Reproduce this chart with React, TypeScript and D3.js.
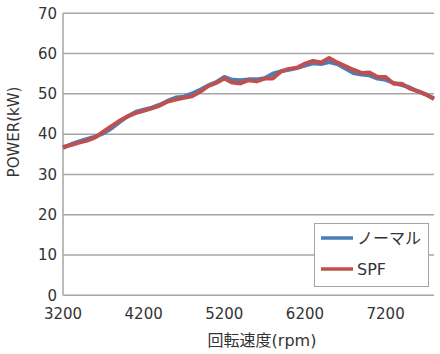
import React from "react";
import * as d3 from "d3";

const rpm = [3200,3300,3400,3500,3600,3700,3800,3900,4000,4100,4200,4300,4400,4500,4600,4700,4800,4900,5000,5100,5200,5300,5400,5500,5600,5700,5800,5900,6000,6100,6200,6300,6400,6500,6600,6700,6800,6900,7000,7100,7200,7300,7400,7500,7600,7700,7800];
const normal = [36.6,37.5,38.2,38.8,39.4,40.2,41.4,43.0,44.4,45.5,46.1,46.6,47.3,48.3,49.1,49.3,50.1,51.0,52.1,52.9,54.2,53.5,53.4,53.6,53.6,53.9,55.0,55.6,56.0,56.4,57.0,57.6,57.4,57.9,57.4,56.3,55.2,54.8,54.6,53.8,53.5,52.7,52.2,51.6,50.6,49.8,48.9];
const spf = [36.8,37.3,37.9,38.4,39.2,40.6,42.0,43.3,44.4,45.2,45.8,46.4,47.1,48.1,48.6,49.0,49.4,50.5,51.9,52.7,53.8,52.8,52.6,53.4,53.1,53.8,53.8,55.5,56.2,56.5,57.5,58.2,57.8,58.9,57.8,56.9,56.0,55.2,55.3,54.2,54.2,52.5,52.5,51.3,50.7,49.9,48.7];
const xTicks = [3200,4200,5200,6200,7200];
const yTicks = [0,10,20,30,40,50,60,70];
const seriesNames = ["ノーマル","SPF"];
const seriesColors = ["#4a7ebb","#c0504d"];

export default function App() {
  const W = 440, H = 354;
  const left = 63, right = 434, top = 13.3, bottom = 295.3;
  const x = d3.scaleLinear().domain([3200, 7800]).range([left, right]);
  const y = d3.scaleLinear().domain([0, 70]).range([bottom, top]);
  const font = "'DejaVu Sans', 'Noto Sans CJK JP', sans-serif";
  const series = [normal, spf];
  const line = (vals: number[]) =>
    d3.line<number>().x((_, i) => x(rpm[i])).y((v) => y(v))(vals) || "";
  return (
    <svg width={W} height={H} style={{ position: "absolute", left: 0, top: 0, background: "#fff" }}>
      {yTicks.map((t) => (
        <g key={t}>
          <line x1={left} x2={right} y1={y(t)} y2={y(t)} stroke="#a6a6a6" strokeWidth={1.5} />
          <text x={57} y={y(t)} dy="0.35em" textAnchor="end" fontSize={15} fontFamily={font} fill="#333">{t}</text>
        </g>
      ))}
      <line x1={left} x2={left} y1={top} y2={bottom} stroke="#a6a6a6" strokeWidth={1.5} />
      {xTicks.map((t) => (
        <text key={t} x={x(t)} y={319} textAnchor="middle" fontSize={15} fontFamily={font} fill="#333">{t}</text>
      ))}
      {series.map((s, i) => (
        <path key={i} d={line(s)} fill="none" stroke={seriesColors[i]} strokeWidth={4} strokeLinejoin="round" />
      ))}
      <text transform="translate(19,132) rotate(-90)" textAnchor="middle" fontSize={15} fontFamily={font} fill="#333">POWER(kW)</text>
      <text x={262} y={345.5} textAnchor="middle" fontSize={16} fontFamily={font} fill="#333">回転速度(rpm)</text>
      <rect x={314.5} y={223.5} width={114} height={63} fill="#fff" stroke="#a6a6a6" strokeWidth={1} />
      {seriesNames.map((n, i) => (
        <g key={n}>
          <line x1={321} x2={353} y1={238 + i * 31} y2={238 + i * 31} stroke={seriesColors[i]} strokeWidth={3.5} />
          <text x={357} y={238 + i * 31} dy="0.35em" fontSize={16} fontFamily={font} fill="#333">{n}</text>
        </g>
      ))}
    </svg>
  );
}
